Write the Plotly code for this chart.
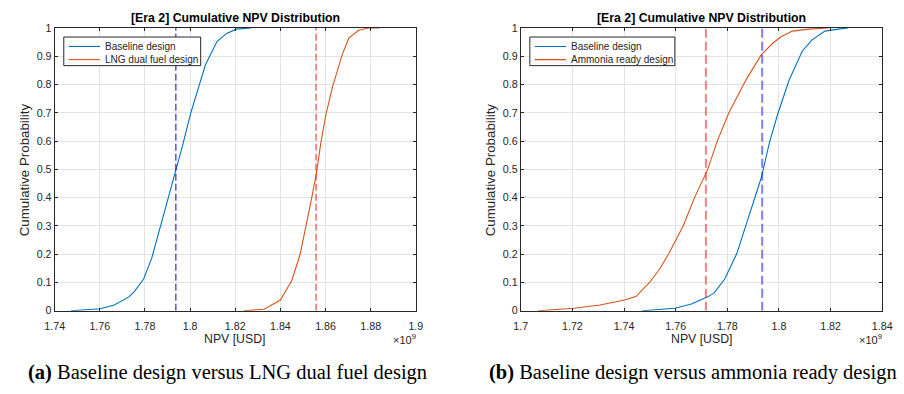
import plotly.graph_objects as go

W, H = 904, 394

# ---------------- data (NPV in units of 1e9 USD) ----------------
a_base_x = [1.7472, 1.7530, 1.7602, 1.7664, 1.7729, 1.7751, 1.7794, 1.7830, 1.7866, 1.7902,
            1.7935, 1.7967, 1.8003, 1.8032, 1.8068, 1.8119, 1.8162, 1.8205, 1.8270]
a_base_y = [0.0, 0.002, 0.007, 0.020, 0.049, 0.066, 0.112, 0.186, 0.289, 0.392,
            0.489, 0.586, 0.700, 0.780, 0.870, 0.952, 0.981, 0.996, 1.0]
a_lng_x = [1.8238, 1.8328, 1.8400, 1.8450, 1.8487, 1.8515, 1.8537, 1.8559, 1.8580, 1.8602,
           1.8631, 1.8674, 1.8703, 1.8747, 1.8790, 1.8840]
a_lng_y = [0.0, 0.005, 0.038, 0.106, 0.198, 0.300, 0.392, 0.484, 0.598, 0.695,
           0.792, 0.906, 0.964, 0.992, 1.0, 1.0]
a_medians = [1.7937, 1.8558]
a_names = ["Baseline design", "LNG dual fuel design"]
a_xticks = [1.74, 1.76, 1.78, 1.80, 1.82, 1.84, 1.86, 1.88, 1.90]
a_xlabels = ["1.74", "1.76", "1.78", "1.8", "1.82", "1.84", "1.86", "1.88", "1.9"]

b_base_x = [1.7471, 1.7597, 1.7661, 1.7724, 1.7749, 1.7790, 1.7837, 1.7875, 1.7907, 1.7932,
            1.7964, 1.7995, 1.8039, 1.8090, 1.8128, 1.8178, 1.8229, 1.8267]
b_base_y = [0.0, 0.009, 0.024, 0.049, 0.063, 0.112, 0.203, 0.312, 0.403, 0.472,
            0.598, 0.695, 0.815, 0.918, 0.958, 0.989, 0.996, 1.0]
b_amm_x = [1.7067, 1.7206, 1.7307, 1.7402, 1.7446, 1.7499, 1.7540, 1.7572, 1.7629, 1.7673,
           1.7724, 1.7761, 1.7806, 1.7837, 1.7875, 1.7932, 1.7976, 1.8008, 1.8052, 1.8115, 1.8191]
b_amm_y = [0.0, 0.009, 0.020, 0.038, 0.050, 0.100, 0.150, 0.200, 0.300, 0.400,
           0.500, 0.600, 0.700, 0.752, 0.821, 0.906, 0.946, 0.969, 0.989, 0.996, 1.0]
b_medians = [1.7935, 1.7717]
b_names = ["Baseline design", "Ammonia ready design"]
b_xticks = [1.70, 1.72, 1.74, 1.76, 1.78, 1.80, 1.82, 1.84]
b_xlabels = ["1.7", "1.72", "1.74", "1.76", "1.78", "1.8", "1.82", "1.84"]

y_ticks = [0, 0.1, 0.2, 0.3, 0.4, 0.5, 0.6, 0.7, 0.8, 0.9, 1.0]
y_labels = ["0", "0.1", "0.2", "0.3", "0.4", "0.5", "0.6", "0.7", "0.8", "0.9", "1"]

title_text = "[Era 2] Cumulative NPV Distribution"
x_title = "NPV [USD]"
y_title = "Cumulative Probability"
captions = ["<b>(a)</b> Baseline design versus LNG dual fuel design",
            "<b>(b)</b> Baseline design versus ammonia ready design"]

# ---------------- styles ----------------
BLUE = "#0072BD"
ORANGE = "#D95319"
AX = "#262626"
GRID = "#e3e3e3"
SANS = "Liberation Sans, Arial, Helvetica, sans-serif"
SERIF = "Liberation Serif, Times New Roman, serif"


def px(x):
    return x / W


def py(y):
    return 1 - y / H


# plot area pixels
A_L, A_R = 45.7, 415.0
B_L, B_R = 522.3, 892.0
P_T, P_B = 22.7, 314.3

fig = go.Figure()

# panel a
fig.add_trace(go.Scatter(x=a_base_x, y=a_base_y, mode="lines", name=a_names[0],
                         line=dict(color=BLUE, width=1.1), xaxis="x", yaxis="y", showlegend=False))
fig.add_trace(go.Scatter(x=a_lng_x, y=a_lng_y, mode="lines", name=a_names[1],
                         line=dict(color=ORANGE, width=1.1), xaxis="x", yaxis="y", showlegend=False))
fig.add_trace(go.Scatter(x=[a_medians[0]] * 2, y=[0, 1], mode="lines",
                         line=dict(color="#0000b8", width=1, dash="7px,3px"),
                         xaxis="x", yaxis="y", showlegend=False, hoverinfo="skip"))
fig.add_trace(go.Scatter(x=[a_medians[1]] * 2, y=[0, 1], mode="lines",
                         line=dict(color="#f02020", width=1, dash="7px,3px"),
                         xaxis="x", yaxis="y", showlegend=False, hoverinfo="skip"))

# panel b
fig.add_trace(go.Scatter(x=b_base_x, y=b_base_y, mode="lines", name=b_names[0],
                         line=dict(color=BLUE, width=1.1), xaxis="x2", yaxis="y2", showlegend=False))
fig.add_trace(go.Scatter(x=b_amm_x, y=b_amm_y, mode="lines", name=b_names[1],
                         line=dict(color=ORANGE, width=1.1), xaxis="x2", yaxis="y2", showlegend=False))
fig.add_trace(go.Scatter(x=[b_medians[0]] * 2, y=[0, 1], mode="lines",
                         line=dict(color="rgba(40,40,255,0.6)", width=2, dash="9px,4px"),
                         xaxis="x2", yaxis="y2", showlegend=False, hoverinfo="skip"))
fig.add_trace(go.Scatter(x=[b_medians[1]] * 2, y=[0, 1], mode="lines",
                         line=dict(color="rgba(255,40,40,0.6)", width=2, dash="9px,4px"),
                         xaxis="x2", yaxis="y2", showlegend=False, hoverinfo="skip"))

common_ax = dict(showline=True, linecolor=AX, linewidth=1, mirror="allticks",
                 ticks="inside", ticklen=3, tickcolor=AX, tickwidth=1,
                 showgrid=True, gridcolor=GRID, gridwidth=1, zeroline=False,
                 tickfont=dict(family=SANS, size=10.7, color=AX), layer="above traces")

fig.update_layout(
    width=W, height=H, autosize=False,
    margin=dict(l=0, r=0, t=0, b=0),
    paper_bgcolor="white", plot_bgcolor="white",
    showlegend=False,
    xaxis=dict(domain=[px(A_L), px(A_R)], range=[1.74, 1.90], anchor="y",
               tickmode="array", tickvals=a_xticks, ticktext=a_xlabels,
               ticklabelstandoff=5, **common_ax),
    yaxis=dict(domain=[py(P_B), py(P_T)], range=[0, 1], anchor="x",
               tickmode="array", tickvals=y_ticks, ticktext=y_labels, **common_ax),
    xaxis2=dict(domain=[px(B_L), px(B_R)], range=[1.70, 1.84], anchor="y2",
                tickmode="array", tickvals=b_xticks, ticktext=b_xlabels,
                ticklabelstandoff=5, **common_ax),
    yaxis2=dict(domain=[py(P_B), py(P_T)], range=[0, 1], anchor="x2",
                tickmode="array", tickvals=y_ticks, ticktext=y_labels, **common_ax),
)

annotations = []
shapes = []
for k, (L, R, names, cap_x) in enumerate([(A_L, A_R, a_names, 16), (B_L, B_R, b_names, 487.7)]):
    cx = (L + R) / 2
    annotations.append(dict(x=px(cx), y=py(12.7), xref="paper", yref="paper", showarrow=False,
                            text="<b>" + title_text + "</b>", xanchor="center", yanchor="middle",
                            font=dict(family=SANS, size=12.3, color="#000000")))
    annotations.append(dict(x=px(cx), y=py(343.5), xref="paper", yref="paper", showarrow=False,
                            text=x_title, xanchor="center", yanchor="middle",
                            font=dict(family=SANS, size=12.3, color=AX)))
    annotations.append(dict(x=px(L - 31.5), y=py((P_T + P_B) / 2), xref="paper", yref="paper",
                            showarrow=False, text=y_title, textangle=-90,
                            xanchor="center", yanchor="middle",
                            font=dict(family=SANS, size=13.3, color=AX)))
    annotations.append(dict(x=px(R + 2), y=py(343.5), xref="paper", yref="paper", showarrow=False,
                            text="×10<sup>9</sup>", xanchor="right", yanchor="middle",
                            font=dict(family=SANS, size=11, color=AX)))
    annotations.append(dict(x=px(cap_x), y=py(378), xref="paper", yref="paper", showarrow=False,
                            text=captions[k], xanchor="left", yanchor="middle",
                            font=dict(family=SERIF, size=20.5, color="#000000")))
    # legend box
    box_w = 140 if k == 0 else 148.3
    bx0 = L + 9.3
    shapes.append(dict(type="rect", xref="paper", yref="paper",
                       x0=px(bx0), x1=px(bx0 + box_w), y0=py(61.5), y1=py(32),
                       line=dict(color=AX, width=1), fillcolor="white", layer="above"))
    for i, (nm, col) in enumerate(zip(names, [BLUE, ORANGE])):
        yy = 41.7 + i * 13.6
        shapes.append(dict(type="line", xref="paper", yref="paper",
                           x0=px(bx0 + 5), x1=px(bx0 + 37), y0=py(yy), y1=py(yy),
                           line=dict(color=col, width=1.1), layer="above"))
        annotations.append(dict(x=px(bx0 + 40.5), y=py(yy), xref="paper", yref="paper", showarrow=False,
                                text=nm, xanchor="left", yanchor="middle",
                                font=dict(family=SANS, size=10, color=AX)))

fig.update_layout(annotations=annotations, shapes=shapes)

fig.write_html("out.html", config={"displayModeBar": False},
               post_script="document.body.style.margin='0';document.body.style.overflow='hidden';")
